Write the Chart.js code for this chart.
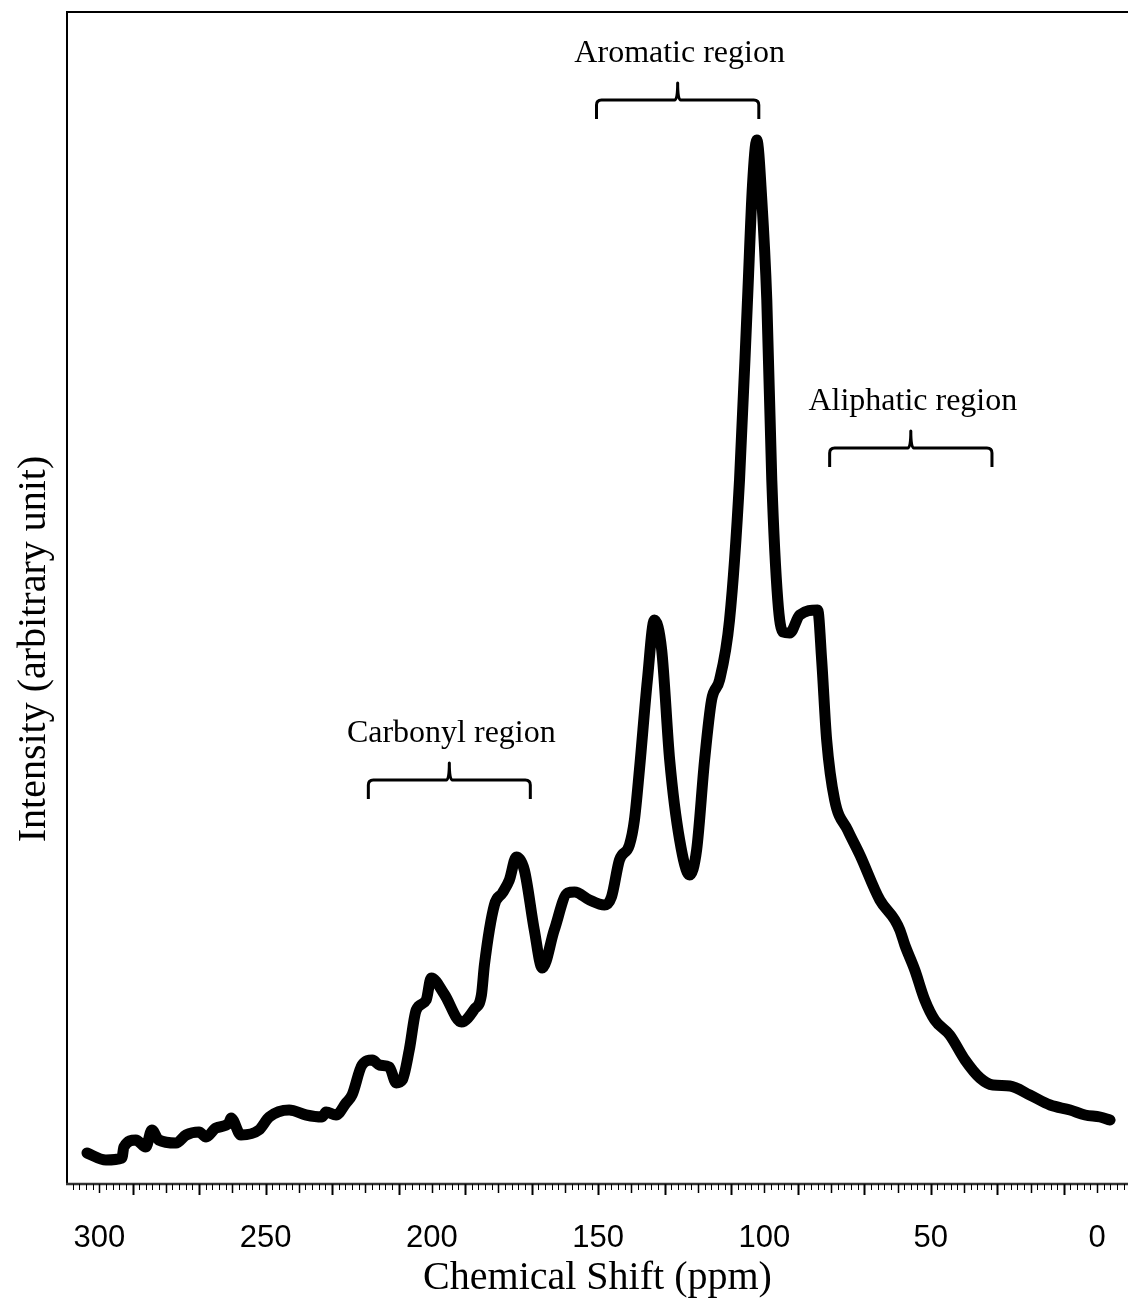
<!DOCTYPE html>
<html><head><meta charset="utf-8">
<script src="https://cdn.jsdelivr.net/npm/chart.js@4.4.1/dist/chart.umd.min.js"></script>
<style>html,body{margin:0;padding:0;background:#fff;}#wrap{width:1128px;height:1298px;}</style>
</head><body><div id="wrap"><canvas id="c" width="1128" height="1298"></canvas></div>
<script>
// Chemical shift (ppm) and intensity (arbitrary unit)
const shiftPpm = [303.7,298.0,293.2,292.6,289.0,286.0,284.2,282.1,276.9,273.9,270.0,267.9,264.9,261.0,260.4,257.4,252.0,248.9,242.9,237.8,233.0,231.8,228.8,225.8,224.0,221.0,217.9,215.8,212.8,210.7,208.9,206.8,204.7,201.7,200.2,196.3,191.1,187.2,185.1,184.2,181.2,178.8,176.7,174.6,172.2,169.2,166.8,163.2,159.2,157.1,152.6,148.1,146.0,143.6,140.6,139.1,137.6,135.2,133.1,130.9,128.5,125.5,122.5,120.4,118.0,115.9,113.5,110.5,107.5,105.1,103.6,102.3,100.8,99.3,97.8,96.0,94.5,92.4,89.4,84.0,82.8,81.3,78.9,75.0,71.3,65.3,60.8,59.3,57.8,54.8,51.8,48.8,44.3,39.7,35.2,31.3,26.2,20.2,14.1,8.1,3.6,-0.9,-3.9];
const intensity = [31,24,26,37,44,37,54,44,41,49,52,47,56,61,66,49,54,67,74,69,67,72,69,81,89,119,124,119,117,101,104,134,174,184,206,190,162,175,189,219,279,291,304,327,314,254,216,254,291,292,284,279,287,324,339,364,414,504,564,534,424,344,309,334,424,484,504,564,704,884,999,1044,984,884,704,584,552,551,569,574,524,444,384,354,329,284,264,254,239,214,184,164,149,124,106,99,98,89,79,74,69,67,64];
const tickLabelValues = [300,250,200,150,100,50,0];
const regionNames = ['Carbonyl region','Aromatic region','Aliphatic region'];
const regionFrom = [219.1,150.5,80.4];
const regionTo = [170.4,101.7,31.6];
const regionLevel = [404,1084,736];
const xTitle = 'Chemical Shift (ppm)';
const yTitle = 'Intensity (arbitrary unit)';

const decor = {
  id: 'decor',
  beforeDatasetsDraw(chart) {
    const {ctx, chartArea: a, scales: {x, y}} = chart;
    ctx.save();
    ctx.strokeStyle = '#000';
    ctx.lineCap = 'butt';
    ctx.lineWidth = 2;
    ctx.beginPath();
    ctx.moveTo(a.left, a.bottom); ctx.lineTo(a.left, a.top); ctx.lineTo(a.right, a.top);
    ctx.stroke();
    ctx.strokeStyle = '#333';
    ctx.lineWidth = 2.5;
    ctx.beginPath(); ctx.moveTo(a.left - 1, a.bottom); ctx.lineTo(a.right, a.bottom); ctx.stroke();
    ctx.strokeStyle = '#000';
    for (let v = -8; v <= 308; v += 2) {
      const px = Math.round(x.getPixelForValue(v)) + 0.5;
      let len = 6, w = 1;
      if (v % 20 === 10 || v % 20 === -10) { len = 11; w = 2; }
      else if (v % 10 === 0) { len = 9; w = 1.5; }
      ctx.lineWidth = w;
      ctx.beginPath(); ctx.moveTo(px, a.bottom); ctx.lineTo(px, a.bottom + len); ctx.stroke();
    }
    ctx.lineWidth = 3;
    ctx.lineJoin = 'round';
    ctx.font = '32px "Liberation Serif"';
    ctx.fillStyle = '#000';
    ctx.textAlign = 'center';
    ctx.textBaseline = 'middle';
    for (let i = 0; i < regionNames.length; i++) {
      const x1 = x.getPixelForValue(regionFrom[i]);
      const x2 = x.getPixelForValue(regionTo[i]);
      const yy = y.getPixelForValue(regionLevel[i]);
      const xm = (x1 + x2) / 2;
      const r = 5;
      ctx.beginPath();
      ctx.moveTo(x1, yy + 19);
      ctx.lineTo(x1, yy + r);
      ctx.quadraticCurveTo(x1, yy, x1 + r, yy);
      ctx.lineTo(xm - 3, yy);
      ctx.quadraticCurveTo(xm, yy, xm, yy - 17);
      ctx.quadraticCurveTo(xm, yy, xm + 3, yy);
      ctx.lineTo(x2 - r, yy);
      ctx.quadraticCurveTo(x2, yy, x2, yy + r);
      ctx.lineTo(x2, yy + 19);
      ctx.stroke();
      ctx.fillText(regionNames[i], xm + 2, yy - 46);
    }
    ctx.font = '40px "Liberation Serif"';
    ctx.translate(34, 649);
    ctx.rotate(-Math.PI / 2);
    ctx.fillText(yTitle, 0, 0);
    ctx.restore();
  }
};

new Chart(document.getElementById('c'), {
  type: 'line',
  data: {
    datasets: [{
      data: shiftPpm.map((s, i) => ({x: s, y: intensity[i]})),
      borderColor: '#000',
      borderWidth: 11,
      pointRadius: 0,
      cubicInterpolationMode: 'monotone',
      borderJoinStyle: 'round',
      borderCapStyle: 'round',
      fill: false
    }]
  },
  options: {
    responsive: false,
    animation: false,
    devicePixelRatio: 1,
    layout: {padding: {left: 67, top: 12, right: 0, bottom: 0}},
    plugins: {legend: {display: false}, tooltip: {enabled: false}},
    scales: {
      x: {
        type: 'linear', reverse: true, min: -9.3, max: 309.7,
        afterBuildTicks: (axis) => { axis.ticks = tickLabelValues.map(v => ({value: v})); },
        afterFit: (s) => { s.height = 114; s.paddingLeft = 0; s.paddingRight = 0; },
        ticks: {padding: 36, color: '#000', maxRotation: 0, autoSkip: false,
          font: {family: 'Liberation Sans', size: 31, lineHeight: 1.2},
          callback: (v) => String(v)},
        grid: {display: false, drawTicks: false},
        border: {display: false},
        title: {display: true, text: xTitle, color: '#000',
          font: {family: 'Liberation Serif', size: 40, lineHeight: 1},
          padding: {top: 1, bottom: 0}}
      },
      y: {display: false, min: 0, max: 1172}
    }
  },
  plugins: [decor]
});
</script></body></html>
